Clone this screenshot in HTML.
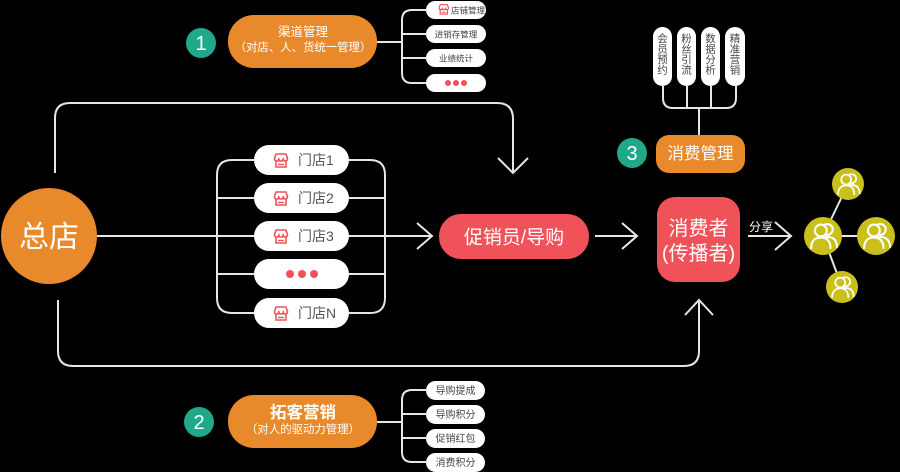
<!DOCTYPE html>
<html><head><meta charset="utf-8"><style>
html,body{margin:0;padding:0;background:#000;}
svg{display:block;}
text{font-family:"Liberation Sans","Noto Sans CJK SC",sans-serif;}
</style></head><body>
<svg width="900" height="472" viewBox="0 0 900 472" xmlns="http://www.w3.org/2000/svg">
<defs>
<g id="store">
<path d="M1.5,5.5 L3,1 H13 L14.5,5.5 Q14.5,8 12.3,8 Q10.2,8 10.2,5.5 Q10.2,8 8,8 Q5.8,8 5.8,5.5 Q5.8,8 3.7,8 Q1.5,8 1.5,5.5 Z" fill="none" stroke="#f0525a" stroke-width="1.6" stroke-linejoin="round"/>
<path d="M3,8.5 V14 H13 V8.5" fill="none" stroke="#f0525a" stroke-width="1.6"/>
<line x1="5" y1="11.5" x2="11" y2="11.5" stroke="#f0525a" stroke-width="1.4"/>
</g>
<g id="ppl">
<circle cx="4" cy="-7" r="5" fill="none" stroke="#fff" stroke-width="1.9"/>
<path d="M-3,10 Q-3,0 4,0 Q13,0 13,10" fill="none" stroke="#fff" stroke-width="1.9"/>
<circle cx="-2" cy="-6" r="5.5" fill="#c9c01c" stroke="#fff" stroke-width="1.9"/>
<path d="M-11,11 Q-11,0.5 -2,0.5 Q7,0.5 7,11" fill="#c9c01c" stroke="#fff" stroke-width="1.9"/>
</g>
</defs>
<rect width="900" height="472" fill="#000"/>

<g fill="none" stroke="#e6e6e6" stroke-width="2">
<path d="M55,173 V118 Q55,103 70,103 H497 Q513,103 513,119 V172"/>
<polyline points="498,158 513,173 528,158"/>
<path d="M58,300 V351 Q58,366 73,366 H684 Q699,366 699,351 V301"/>
<polyline points="685,315 699,300 713,315"/>
<path d="M97,236 H432"/>
<polyline points="417,223 432,236 417,249"/>
<path d="M254,160 H232 Q217,160 217,175 V298 Q217,313 232,313 H254"/>
<path d="M217,198 H254 M217,274 H254"/>
<path d="M349,160 H370 Q385,160 385,175 V298 Q385,313 370,313 H349"/>
<path d="M349,198 H385 M349,274 H385"/>
<path d="M595,236 H637"/>
<polyline points="622,223 637,236 622,249"/>
<path d="M748,236 H791"/>
<polyline points="775,222 791,236 775,250"/>
<path d="M663,86 V98 Q663,108 673,108 H726 Q736,108 736,98 V86"/>
<path d="M687,86 V108 M711,86 V108 M699,108 V135"/>
<path d="M377,42 H402"/>
<path d="M426,10 H412 Q402,10 402,20 V73 Q402,83 412,83 H426"/>
<path d="M402,34 H426 M402,58 H426"/>
<path d="M377,422 H402"/>
<path d="M426,390 H412 Q402,390 402,400 V452 Q402,462 412,462 H426"/>
<path d="M402,414 H426 M402,438 H426"/>
<path d="M823,236 L848,184 M823,236 H876 M823,236 L842,287"/>
</g>

<circle cx="49" cy="236" r="48" fill="#e8892b"/>
<text x="49" y="247" font-size="30" fill="#fff" text-anchor="middle">总店</text>

<circle cx="201" cy="43" r="15" fill="#1fa88a"/>
<text x="201" y="50" font-size="20" fill="#fff" text-anchor="middle">1</text>
<rect x="228" y="15" width="149" height="53" rx="26" fill="#e8892b"/>
<text x="303" y="36" font-size="12.5" fill="#fff" text-anchor="middle">渠道管理</text>
<text x="303" y="51" font-size="11.4" fill="#fff" text-anchor="middle">（对店、人、货统一管理）</text>

<g fill="#fff">
<rect x="426" y="1" width="60" height="18" rx="9"/>
<rect x="426" y="25" width="60" height="18" rx="9"/>
<rect x="426" y="49" width="60" height="18" rx="9"/>
<rect x="426" y="74" width="60" height="18" rx="9"/>
</g>
<use href="#store" transform="translate(438,4) scale(0.72)"/>
<text x="451" y="13.5" font-size="8.5" fill="#444">店铺管理</text>
<text x="456" y="37.5" font-size="8.5" fill="#444" text-anchor="middle">进销存管理</text>
<text x="456" y="61.5" font-size="8.5" fill="#444" text-anchor="middle">业绩统计</text>
<g fill="#f0525a"><circle cx="448" cy="83" r="3"/><circle cx="456" cy="83" r="3"/><circle cx="464" cy="83" r="3"/></g>

<circle cx="199" cy="422" r="15" fill="#1fa88a"/>
<text x="199" y="429" font-size="20" fill="#fff" text-anchor="middle">2</text>
<rect x="228" y="395" width="149" height="53" rx="26" fill="#e8892b"/>
<text x="303" y="418" font-size="16.5" fill="#fff" text-anchor="middle" font-weight="bold">拓客营销</text>
<text x="303" y="433" font-size="11.4" fill="#fff" text-anchor="middle">（对人的驱动力管理）</text>

<g fill="#fff">
<rect x="426" y="381" width="59" height="19" rx="9.5"/>
<rect x="426" y="405" width="59" height="19" rx="9.5"/>
<rect x="426" y="429" width="59" height="19" rx="9.5"/>
<rect x="426" y="453" width="59" height="19" rx="9.5"/>
</g>
<g font-size="10" fill="#444" text-anchor="middle">
<text x="455.5" y="394">导购提成</text>
<text x="455.5" y="418">导购积分</text>
<text x="455.5" y="442">促销红包</text>
<text x="455.5" y="466">消费积分</text>
</g>

<g fill="#fff">
<rect x="254" y="145" width="95" height="30" rx="15"/>
<rect x="254" y="183" width="95" height="30" rx="15"/>
<rect x="254" y="221" width="95" height="30" rx="15"/>
<rect x="254" y="259" width="95" height="30" rx="15"/>
<rect x="254" y="298" width="95" height="30" rx="15"/>
</g>
<use href="#store" transform="translate(273,153)"/>
<use href="#store" transform="translate(273,191)"/>
<use href="#store" transform="translate(273,229)"/>
<use href="#store" transform="translate(273,306)"/>
<g font-size="14" fill="#555">
<text x="298" y="165">门店1</text>
<text x="298" y="203">门店2</text>
<text x="298" y="241">门店3</text>
<text x="298" y="318">门店N</text>
</g>
<g fill="#f0525a"><circle cx="290" cy="274" r="4"/><circle cx="302" cy="274" r="4"/><circle cx="314" cy="274" r="4"/></g>

<rect x="439" y="214" width="150" height="45" rx="22" fill="#f0525a"/>
<text x="514" y="243.5" font-size="19" fill="#fff" text-anchor="middle">促销员/导购</text>

<rect x="657" y="197" width="83" height="85" rx="18" fill="#f0525a"/>
<text x="698.5" y="235" font-size="20" fill="#fff" text-anchor="middle">消费者</text>
<text x="698.5" y="260" font-size="20" fill="#fff" text-anchor="middle">(传播者)</text>

<circle cx="632" cy="153" r="15" fill="#1fa88a"/>
<text x="632" y="160" font-size="20" fill="#fff" text-anchor="middle">3</text>
<rect x="656" y="135" width="89" height="38" rx="13" fill="#e8892b"/>
<text x="700.5" y="159" font-size="16.5" fill="#fff" text-anchor="middle">消费管理</text>

<g fill="#fff">
<rect x="653" y="27" width="19" height="59" rx="9.5"/>
<rect x="677" y="27" width="19" height="59" rx="9.5"/>
<rect x="701" y="27" width="19" height="59" rx="9.5"/>
<rect x="725" y="27" width="20" height="59" rx="10"/>
</g>
<g font-size="10.5" fill="#444" text-anchor="middle">
<text x="662.5" y="42">会</text><text x="662.5" y="52.5">员</text><text x="662.5" y="63">预</text><text x="662.5" y="73.5">约</text>
<text x="686.5" y="42">粉</text><text x="686.5" y="52.5">丝</text><text x="686.5" y="63">引</text><text x="686.5" y="73.5">流</text>
<text x="710.5" y="42">数</text><text x="710.5" y="52.5">据</text><text x="710.5" y="63">分</text><text x="710.5" y="73.5">析</text>
<text x="735" y="42">精</text><text x="735" y="52.5">准</text><text x="735" y="63">营</text><text x="735" y="73.5">销</text>
</g>

<text x="749" y="231" font-size="12" fill="#fff">分享</text>

<circle cx="848" cy="184" r="16" fill="#c9c01c"/>
<circle cx="823" cy="236" r="19" fill="#c9c01c"/>
<circle cx="876" cy="236" r="19" fill="#c9c01c"/>
<circle cx="842" cy="287" r="16" fill="#c9c01c"/>
<use href="#ppl" transform="translate(848,185) scale(0.9)"/>
<use href="#ppl" transform="translate(823,237) scale(1.08)"/>
<use href="#ppl" transform="translate(876,237) scale(1.08)"/>
<use href="#ppl" transform="translate(842,288) scale(0.9)"/>
</svg>
</body></html>
